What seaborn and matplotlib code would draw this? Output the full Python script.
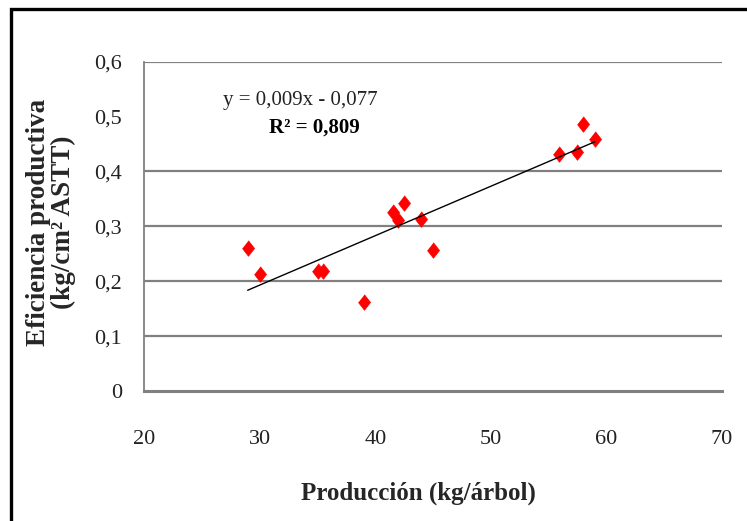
import numpy as np
import pandas as pd
import matplotlib
matplotlib.use("Agg")
import matplotlib.pyplot as plt
from matplotlib.patches import Rectangle
import seaborn as sns

# Production per tree (kg) and productive efficiency (kg/cm² ASTT)
produccion = [28.95, 30.0, 35.0, 35.5, 39.0, 41.5, 42.0, 42.5, 44.0, 45.0,
              55.9, 57.5, 58.0, 59.0]
eficiencia = [0.261, 0.214, 0.219, 0.219, 0.163, 0.327, 0.311, 0.343, 0.313,
              0.257, 0.432, 0.435, 0.486, 0.460]

# Linear trend as reported
pendiente = 0.009
intercepto = -0.077
r2 = 0.809

x_ticks = [20, 30, 40, 50, 60, 70]
y_ticks = [0, 0.1, 0.2, 0.3, 0.4, 0.5, 0.6]
y_grid = [0.1, 0.2, 0.3, 0.4, 0.6]


def coma(v, fmt):
    return format(v, fmt).replace(".", ",")


df = pd.DataFrame({"Producción": produccion, "Eficiencia": eficiencia})

sns.set_theme(style="white")
plt.rcParams["font.family"] = ["Liberation Serif", "DejaVu Serif"]

W, H = 747, 521
fig = plt.figure(figsize=(W / 100, H / 100), dpi=100)
ax = fig.add_axes([144.3 / W, 1 - 391 / H, (721.7 - 144.3) / W, (391 - 61.7) / H])

grey = "#808080"
for g in y_grid:
    ax.axhline(g, color=grey, lw=1.6, zorder=0)

diamond = [(0, 1), (0.78, 0), (0, -1), (-0.78, 0)]
sns.scatterplot(data=df, x="Producción", y="Eficiencia", ax=ax, marker=diamond,
                s=125, color="#FF0000", edgecolor="#FF0000", linewidth=0.5, zorder=3)

xs = np.array([min(produccion), max(produccion)])
ax.plot(xs, pendiente * xs + intercepto, color="black", lw=1.0, zorder=4)

ax.set_xlim(20, 70)
ax.set_ylim(0, 0.6)
ax.set_xticks(x_ticks)
ax.set_xticklabels([str(t) for t in x_ticks])
ax.set_yticks(y_ticks)
ax.set_yticklabels([coma(t, "g") for t in y_ticks])
ax.tick_params(axis="x", length=0, pad=28, labelsize=16, labelcolor="#222222")
ax.tick_params(axis="y", length=0, pad=16, labelsize=16, labelcolor="#222222")
ax.set_xlabel("")
ax.set_ylabel("")

for side in ["top", "right"]:
    ax.spines[side].set_visible(False)
ax.spines["left"].set_color(grey)
ax.spines["left"].set_linewidth(1.3)
ax.spines["bottom"].set_color(grey)
ax.spines["bottom"].set_linewidth(2.2)

signo = "-" if intercepto < 0 else "+"
fig.text(300 / W, 1 - 100 / H,
         f"y = {coma(pendiente, '.3f')}x {signo} {coma(abs(intercepto), '.3f')}",
         fontsize=15, ha="center", va="center", color="#222222")
fig.text(314 / W, 1 - 128 / H, f"R² = {coma(r2, '.3f')}",
         fontsize=15, fontweight="bold", ha="center", va="center", color="black")

fig.text(418 / W, 1 - 493 / H, "Producción (kg/árbol)", fontsize=18,
         fontweight="bold", ha="center", va="center")
fig.text(51 / W, 1 - 222 / H, "Eficiencia productiva\n(kg/cm² ASTT)", fontsize=19.5,
         fontweight="bold", ha="center", va="center", rotation=90, linespacing=0.95)

# Outer frame of the chart area
fig.patches.append(Rectangle((11 / W, -0.1), 1.2, 1 - 9 / H + 0.1,
                             transform=fig.transFigure, fill=False,
                             edgecolor="black", lw=2.4, clip_on=False))

fig.savefig("out.png", dpi=100)
